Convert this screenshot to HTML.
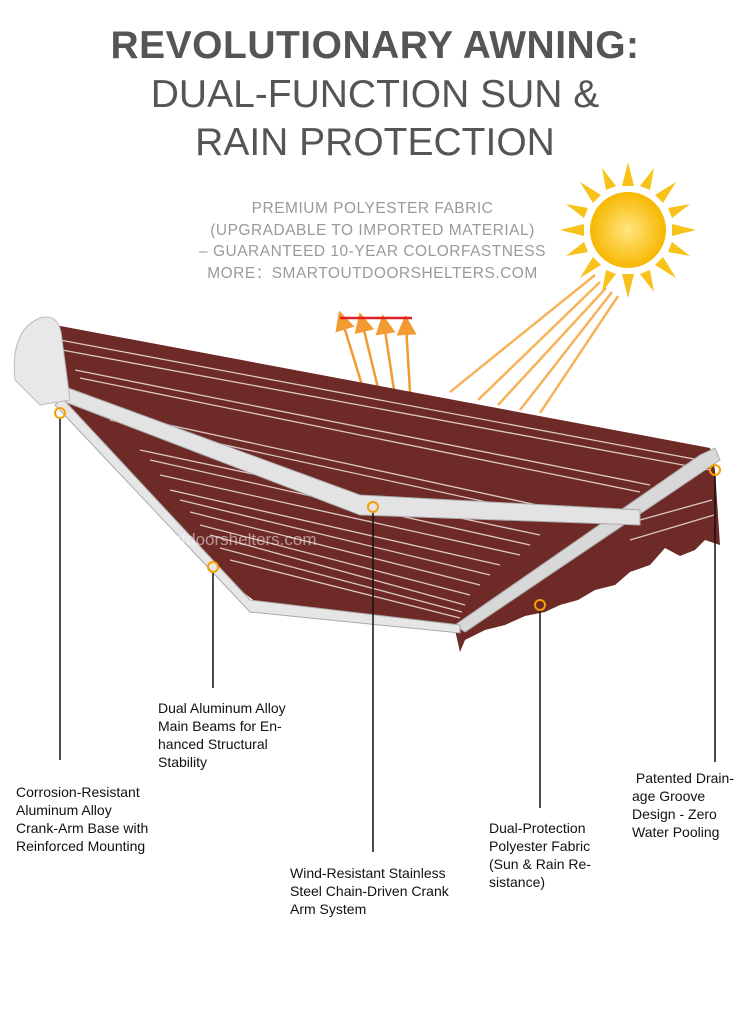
<!DOCTYPE html>
<html><head><meta charset="utf-8"><style>
body{margin:0;background:#fff;}
.wrap{position:relative;width:750px;height:1022px;overflow:hidden;background:#fff;font-family:"Liberation Sans",sans-serif;}
.t{position:absolute;left:0;width:750px;text-align:center;color:#555;font-size:39px;line-height:48px;letter-spacing:0px}
.s{position:absolute;left:0;width:745px;text-align:center;color:#9a9a9a;font-size:15.5px;line-height:21.5px;letter-spacing:0.5px}
.lb{position:absolute;font-size:14px;line-height:18px;color:#111}
</style></head><body><div class="wrap">
<div class="t" style="top:22px;font-weight:bold;letter-spacing:0.5px">REVOLUTIONARY AWNING:</div>
<div class="t" style="top:71px">DUAL-FUNCTION SUN &amp;</div>
<div class="t" style="top:119px">RAIN PROTECTION</div>
<div class="s" style="top:198px">PREMIUM POLYESTER FABRIC<br>(UPGRADABLE TO IMPORTED MATERIAL)<br>– GUARANTEED 10-YEAR COLORFASTNESS<br>MORE：SMARTOUTDOORSHELTERS.COM</div>
<svg width="750" height="1022" style="position:absolute;left:0;top:0">
<defs><radialGradient id="sg"><stop offset="0" stop-color="#ffe680"/><stop offset="1" stop-color="#f7b700"/></radialGradient>
<marker id="ar" markerWidth="8" markerHeight="8" refX="4" refY="4" orient="auto"><path d="M0,0L8,4L0,8z" fill="#f29b30"/></marker></defs>
<g transform="translate(628,230)">
<g fill="#f8c21a">
<polygon points="0,-68 6,-44 -6,-44"/><polygon points="0,68 6,44 -6,44"/><polygon points="-68,0 -44,6 -44,-6"/><polygon points="68,0 44,6 44,-6"/>
<polygon points="48,-48 35,-27 27,-35"/><polygon points="-48,48 -35,27 -27,35"/><polygon points="48,48 35,27 27,35"/><polygon points="-48,-48 -35,-27 -27,-35"/>
<polygon points="26,-62 22,-40 12,-44"/><polygon points="-26,62 -22,40 -12,44"/><polygon points="62,26 40,22 44,12"/><polygon points="-62,-26 -40,-22 -44,-12"/>
<polygon points="62,-26 44,-12 40,-22"/><polygon points="-62,26 -44,12 -40,22"/><polygon points="26,62 12,44 22,40"/><polygon points="-26,-62 -12,-44 -22,-40"/>
</g>
<circle r="38" fill="url(#sg)"/></g>
<g stroke="#f6b35a" stroke-width="2.5">
<line x1="595" y1="275" x2="450" y2="392"/><line x1="600" y1="282" x2="478" y2="400"/><line x1="606" y1="288" x2="498" y2="405"/><line x1="612" y1="292" x2="520" y2="410"/><line x1="618" y1="296" x2="540" y2="413"/>
</g>
<g stroke="#f29b30" stroke-width="2.5" marker-end="url(#ar)">
<line x1="362" y1="385" x2="342" y2="320"/><line x1="378" y1="388" x2="362" y2="322"/><line x1="394" y1="390" x2="384" y2="324"/><line x1="410" y1="392" x2="406" y2="325"/>
</g>
<line x1="340" y1="318" x2="412" y2="318" stroke="#e02020" stroke-width="2.5"/>
<polygon points="55,325 710,448 715,470 720,545 705,540 695,550 680,556 665,548 650,565 630,572 615,585 595,590 578,600 560,605 545,612 525,616 505,625 485,630 465,640 460,652 455,630 260,605 240,590 60,400" fill="#6d2a26"/>
<g stroke="#e8d8d4" stroke-width="1.3" fill="none" opacity="0.9">
<line x1="60" y1="340" x2="710" y2="462"/><line x1="62" y1="350" x2="710" y2="470"/>
<line x1="75" y1="370" x2="650" y2="485"/><line x1="80" y1="378" x2="640" y2="492"/>
<line x1="100" y1="410" x2="560" y2="510"/><line x1="110" y1="420" x2="560" y2="518"/>
<line x1="140" y1="450" x2="540" y2="535"/><line x1="150" y1="460" x2="530" y2="545"/>
<line x1="160" y1="475" x2="520" y2="555"/>
<line x1="170" y1="490" x2="500" y2="565"/><line x1="180" y1="500" x2="490" y2="575"/>
<line x1="190" y1="512" x2="480" y2="585"/>
<line x1="200" y1="525" x2="470" y2="595"/><line x1="210" y1="535" x2="465" y2="605"/>
<line x1="220" y1="548" x2="462" y2="612"/>
<line x1="230" y1="560" x2="460" y2="618"/>
<line x1="640" y1="520" x2="712" y2="500"/><line x1="630" y1="540" x2="714" y2="515"/>
</g>
<polygon points="455,625 700,455 715,448 720,460 465,632" fill="#d8d8d8" stroke="#aaa"/>
<polygon points="60,385 360,495 640,510 640,525 360,515 60,400" fill="#e3e3e3" stroke="#aaa"/>
<polygon points="62,398 250,600 460,625 460,633 250,612 55,405" fill="#e6e6e6" stroke="#aaa"/>
<path d="M15,380 Q10,330 40,318 Q60,312 62,340 L70,400 L40,405 Z" fill="#e8e8e8" stroke="#bbb"/>
<g stroke="#111" stroke-width="1.5">
<line x1="60" y1="418" x2="60" y2="760"/><line x1="213" y1="572" x2="213" y2="688"/><line x1="373" y1="512" x2="373" y2="852"/><line x1="540" y1="610" x2="540" y2="808"/><line x1="715" y1="475" x2="715" y2="762"/>
</g>
<g fill="none" stroke="#f5a000" stroke-width="2">
<circle cx="60" cy="413" r="5"/><circle cx="213" cy="567" r="5"/><circle cx="373" cy="507" r="5"/><circle cx="540" cy="605" r="5"/><circle cx="715" cy="470" r="5"/>
</g>
<text x="120" y="545" font-family="Liberation Sans" font-size="17" fill="#fff" opacity="0.5">smartoutdoorshelters.com</text>
</svg>
<div class="lb" style="left:158px;top:699px">Dual Aluminum Alloy<br>Main Beams for En-<br>hanced Structural<br>Stability</div>
<div class="lb" style="left:16px;top:783px">Corrosion-Resistant<br>Aluminum Alloy<br>Crank-Arm Base with<br>Reinforced Mounting</div>
<div class="lb" style="left:290px;top:864px">Wind-Resistant Stainless<br>Steel Chain-Driven Crank<br>Arm System</div>
<div class="lb" style="left:489px;top:819px">Dual-Protection<br>Polyester Fabric<br>(Sun &amp; Rain Re-<br>sistance)</div>
<div class="lb" style="left:632px;top:769px">&nbsp;Patented Drain-<br>age Groove<br>Design - Zero<br>Water Pooling</div>
</div></body></html>
